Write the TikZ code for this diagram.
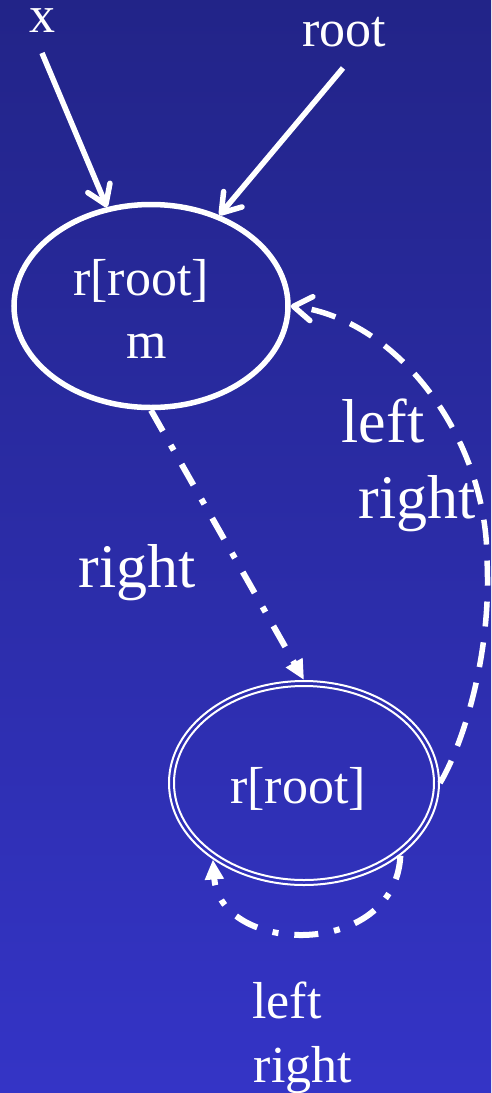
\documentclass[tikz,border=0pt]{standalone}
\usepackage{fontspec}
\setmainfont{Liberation Serif}
\usetikzlibrary{arrows.meta,shapes.geometric}
\definecolor{bgtop}{RGB}{34,36,136}
\definecolor{bgbot}{RGB}{52,52,198}
\begin{document}
\begin{tikzpicture}[x=1pt,y=-1pt,
  txt/.style={text=white,inner sep=0pt,anchor=base,font=\fontsize{52}{60}\selectfont},
  big/.style={txt,font=\fontsize{62}{70}\selectfont},
  ell/.style={ellipse,draw=white,inner sep=0pt},
  solidarr/.style={white,line width=5.5pt,-{Straight Barb[length=18pt,width=24pt,round]}},
  dasharr/.style={white,line width=6pt,dash pattern=on 24pt off 16pt on 6pt off 16pt,-{Triangle[length=20pt,width=18pt]}},
  dashcurve/.style={white,line width=5.5pt,dash pattern=on 25pt off 16pt,-{Straight Barb[length=18pt,width=24pt,round]}}]
\shade[top color=bgtop,bottom color=bgbot] (0,0) rectangle (491,1093);
\useasboundingbox (0,0) rectangle (491,1093);
% nodes
\node[ell,line width=5.5pt,minimum width=274pt,minimum height=203pt] (A) at (151,306) {};
\node[txt] (At1) at (141,295) {r[root]};
\node[txt] (At2) at (147,358) {m};
\node[ell,line width=2pt,minimum width=270pt,minimum height=204pt] (B) at (304,783) {};
\draw[white,line width=2pt] (B.center) ellipse [x radius=130pt, y radius=97pt];
\node[txt] (Bt) at (298,803) {r[root]};
% labels
\node[txt] (xl) at (42,32) {x};
\node[txt] (rootl) at (344,46) {root};
\node[big] (r1) at (137,587) {right};
\node[big] (l2) at (383,442) {left};
\node[big] (r2) at (417,518) {right};
\node[txt] (l3) at (287,1018) {left};
\node[txt] (r3) at (303,1082) {right};
% connectors
\coordinate (xs) at (42,53);
\coordinate (rs) at (343,68);
\draw[solidarr] (xs) -- (A.114);
\draw[solidarr] (rs) -- (A.53);
\draw[dasharr] (A.south) -- (B.north);
\draw[dashcurve] (B.east) .. controls (460,750) and (492,660) .. (487,560) .. controls (487,440) and (400,320) .. (A.east);
\draw[dasharr] (B.-37) .. controls (395,960) and (220,955) .. (B.-140);
\end{tikzpicture}
\end{document}
